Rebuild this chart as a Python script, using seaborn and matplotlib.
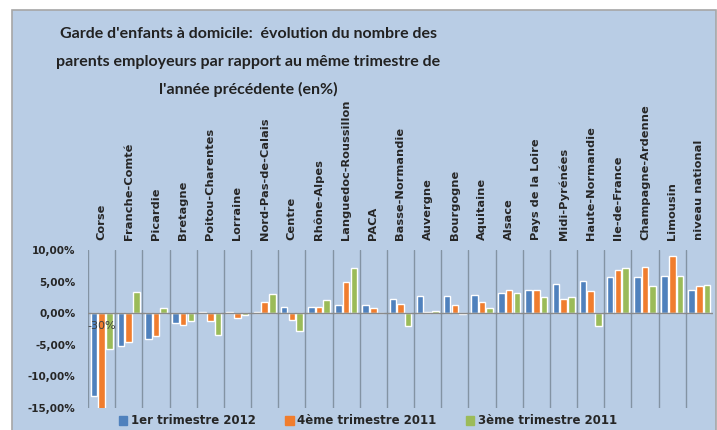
import numpy as np
import pandas as pd
import seaborn as sns
import matplotlib.pyplot as plt
from matplotlib.patches import Rectangle
from matplotlib.ticker import FuncFormatter

# regions, in the order of the chart
regions = ["Corse", "Franche-Comté", "Picardie", "Bretagne", "Poitou-Charentes",
           "Lorraine", "Nord-Pas-de-Calais", "Centre", "Rhône-Alpes",
           "Languedoc-Roussillon", "PACA", "Basse-Normandie", "Auvergne",
           "Bourgogne", "Aquitaine", "Alsace", "Pays de la Loire", "Midi-Pyrénées",
           "Haute-Normandie", "Ile-de-France", "Champagne-Ardenne", "Limousin",
           "niveau national"]

series = ["1er trimestre 2012", "4ème trimestre 2011", "3ème trimestre 2011"]

# values in %
t1_2012 = [-13.1, -5.2, -4.1, -1.5, 0.15, 0.15, 0.25, 1.0, 1.05, 1.3, 1.25, 2.2,
           2.7, 2.7, 2.95, 3.25, 3.75, 4.6, 5.15, 5.75, 5.75, 5.95, 3.75]
t4_2011 = [-30.0, -4.5, -3.6, -1.8, -1.3, -0.8, 1.7, -1.15, 0.95, 4.95, 0.9, 1.5,
           0.15, 1.35, 1.8, 3.6, 3.6, 2.2, 3.5, 6.9, 7.3, 9.1, 4.3]
t3_2011 = [-5.6, 3.4, 0.9, -1.3, -3.5, -0.25, 3.05, -2.85, 2.1, 7.2, 0.05, -2.1,
           0.35, -0.2, 0.75, 3.25, 2.5, 2.5, -2.05, 7.1, 4.3, 5.85, 4.4]

title_lines = ["Garde d'enfants à domicile:  évolution du nombre des",
               "parents employeurs par rapport au même trimestre de",
               "l'année précédente (en%)"]

colors = ["#4F81BD", "#F07D2E", "#9BBB59"]
bg = "#B9CDE5"

df = pd.DataFrame({
    "region": regions * 3,
    "periode": np.repeat(series, len(regions)),
    "valeur": t1_2012 + t4_2011 + t3_2011,
})

sns.set_style("white")
plt.rcParams['font.family'] = ['DejaVu Sans']

fig = plt.figure(figsize=(7.17, 4.3), dpi=100)
fig.patch.set_facecolor("white")
fig.add_artist(Rectangle((12 / 717, -0.02), (716 - 12) / 717, 420 / 430 + 0.02,
                         transform=fig.transFigure, facecolor=bg,
                         edgecolor="#A6A6A6", lw=1.2, zorder=0))

ax = fig.add_axes([88 / 717, 22 / 430, (713 - 88) / 717, (408 - 250) / 430])
ax.set_facecolor(bg)
ax.patch.set_alpha(0)

sns.barplot(data=df, x="region", y="valeur", hue="periode", palette=colors,
            width=0.85, gap=0.15, saturation=1, errorbar=None, legend=False, ax=ax)

ax.set_ylim(-15, 10)
ax.set_xlim(-0.5, len(regions) - 0.5)
ax.set_yticks([-15, -10, -5, 0, 5, 10])
ax.yaxis.set_major_formatter(FuncFormatter(lambda v, p: f"{v:.2f}%".replace(".", ",")))
ax.set_xlabel("")
ax.set_ylabel("")
for s in ax.spines.values():
    s.set_visible(False)

# vertical separators between regions
ax.set_xticks(np.arange(-0.5, len(regions) - 1), minor=True)
ax.grid(which="minor", axis="x", color="#8393A3", lw=1)
ax.set_axisbelow(True)
ax.axhline(0, color="#8A8A8A", lw=1, zorder=1)

ax.tick_params(axis="x", which="both", bottom=False, labelbottom=False, top=False,
               labeltop=True, length=0, pad=7, labelrotation=90, labelsize=8.2)
ax.tick_params(axis="y", length=0, pad=9, labelsize=7.5)
for lab in ax.get_xticklabels() + ax.get_yticklabels():
    lab.set_fontweight("bold")

ax.text(0, -2.1, "-30%", ha="center", va="center", fontsize=8, color="#404040", zorder=5)

handles = [Rectangle((0, 0), 1, 1, color=c) for c in colors]
fig.legend(handles, series, loc="center", bbox_to_anchor=(368 / 717, 1 - 421 / 430),
           ncol=3, frameon=False, handlelength=0.7, handleheight=0.7,
           handletextpad=0.3, columnspacing=2.5,
           prop={"weight": "bold", "size": 8.5})

# title, one text per line (baselines)
for line, base in zip(title_lines, [38, 66, 94]):
    fig.text(248 / 717, 1 - base / 430, line, ha="center", va="baseline",
             family="Lato", fontweight="bold", fontsize=11.5, color="#222222")

plt.savefig("out.png", dpi=100)
